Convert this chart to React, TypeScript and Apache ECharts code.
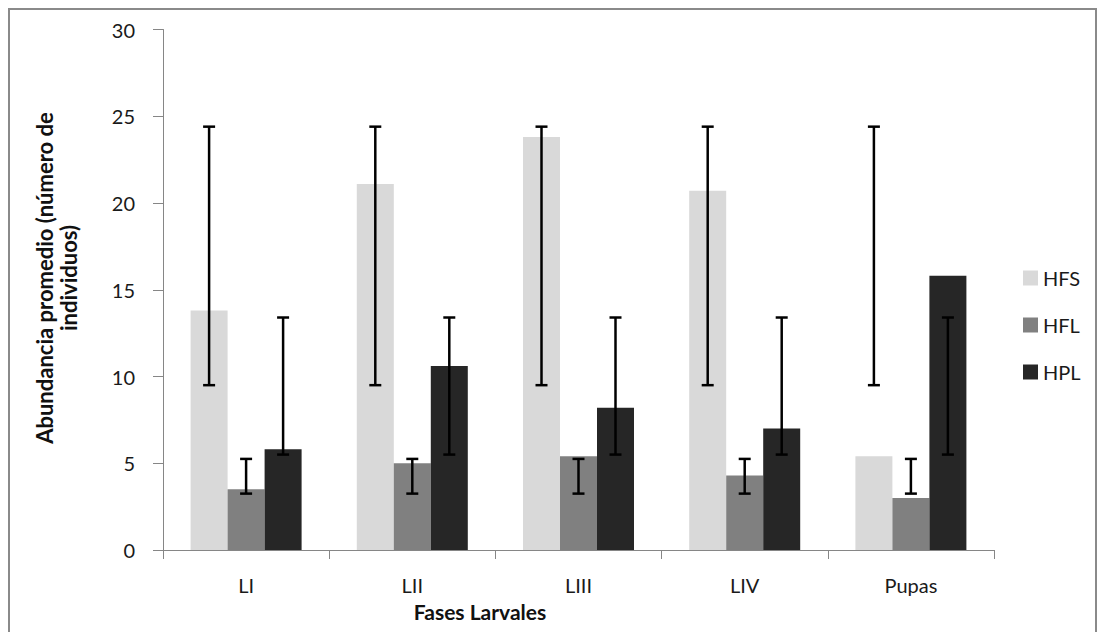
import React, { useEffect, useRef } from "react";
import * as echarts from "echarts";

// Larval phases on the category axis
const categories = ["LI", "LII", "LIII", "LIV", "Pupas"];
const seriesNames = ["HFS", "HFL", "HPL"];

// Mean abundance per phase
const hfsValues = [13.8, 21.1, 23.8, 20.7, 5.4];
const hflValues = [3.5, 5.0, 5.4, 4.3, 3.0];
const hplValues = [5.8, 10.6, 8.2, 7.0, 15.8];

// Error bar limits (low / high) per phase
const hfsLow = [9.5, 9.5, 9.5, 9.5, 9.5];
const hfsHigh = [24.4, 24.4, 24.4, 24.4, 24.4];
const hflLow = [3.25, 3.25, 3.25, 3.25, 3.25];
const hflHigh = [5.25, 5.25, 5.25, 5.25, 5.25];
const hplLow = [5.5, 5.5, 5.5, 5.5, 5.5];
const hplHigh = [13.4, 13.4, 13.4, 13.4, 13.4];

const yMin = 0;
const yMax = 30;
const yStep = 5;

const colors = ["#d9d9d9", "#808080", "#262626"];
const FONT = "Lato, 'Open Sans', sans-serif";
const BAR_W = 37;

export default function App() {
  const ref = useRef<HTMLDivElement>(null);

  useEffect(() => {
    document.body.style.margin = "0";
    if (!ref.current) return;
    const chart = echarts.init(ref.current, undefined, { renderer: "svg" });

    const values = [hfsValues, hflValues, hplValues];
    const lows = [hfsLow, hflLow, hplLow];
    const highs = [hfsHigh, hflHigh, hplHigh];

    const barSeries = seriesNames.map((name, i) => ({
      name,
      type: "bar",
      data: values[i],
      barWidth: BAR_W,
      barGap: "0%",
      itemStyle: { color: colors[i] },
      z: 2,
    }));

    const errorSeries = seriesNames.map((name, i) => ({
      name: name + "-err",
      type: "custom",
      data: categories.map((_, k) => [k, lows[i][k], highs[i][k]]),
      encode: { x: 0, y: [1, 2] },
      z: 5,
      silent: true,
      renderItem: (params: any, api: any) => {
        const k = api.value(0);
        const lo = api.coord([k, api.value(1)]);
        const hi = api.coord([k, api.value(2)]);
        const x = lo[0] + (i - 1) * BAR_W;
        const cap = 6;
        const style = { stroke: "#000", lineWidth: 2.5 };
        return {
          type: "group",
          children: [
            { type: "line", shape: { x1: x, y1: hi[1], x2: x, y2: lo[1] }, style },
            { type: "line", shape: { x1: x - cap, y1: hi[1], x2: x + cap, y2: hi[1] }, style },
            { type: "line", shape: { x1: x - cap, y1: lo[1], x2: x + cap, y2: lo[1] }, style },
          ],
        };
      },
    }));

    const legendCenters = [278, 325, 372];

    chart.setOption({
      animation: false,
      textStyle: { fontFamily: FONT },
      grid: { left: 163, right: 108, top: 29.5, bottom: 82 },
      legend: seriesNames.map((name, i) => ({
        data: [name],
        left: 1023,
        top: legendCenters[i] - 10,
        padding: 0,
        itemWidth: 15,
        itemHeight: 15,
        icon: "rect",
        selectedMode: false,
        textStyle: { fontFamily: FONT, fontSize: 20, color: "#1a1a1a", lineHeight: 20, padding: [0, 0, 0, 0] },
      })),
      xAxis: {
        type: "category",
        data: categories,
        axisLine: { lineStyle: { color: "#868686", width: 1 } },
        axisTick: { show: true, length: 9, lineStyle: { color: "#868686" } },
        axisLabel: { fontFamily: FONT, fontSize: 20, color: "#1a1a1a", margin: 25 },
        splitLine: { show: false },
      },
      yAxis: {
        type: "value",
        min: yMin,
        max: yMax,
        interval: yStep,
        axisLine: { show: true, lineStyle: { color: "#868686", width: 1 } },
        axisTick: { show: true, length: 10, lineStyle: { color: "#868686" } },
        axisLabel: { fontFamily: FONT, fontSize: 20, color: "#1a1a1a", margin: 28 },
        splitLine: { show: false },
      },
      graphic: [
        {
          type: "rect",
          shape: { x: 9, y: 9, width: 1087, height: 640 },
          style: { fill: "none", stroke: "#8a8a8a", lineWidth: 2 },
          silent: true,
        },
        {
          type: "text",
          x: 480,
          y: 611,
          style: {
            text: "Fases Larvales",
            fontFamily: FONT,
            fontSize: 21,
            fontWeight: "bold",
            fill: "#111",
            align: "center",
            verticalAlign: "middle",
          },
        },
        {
          type: "text",
          x: 56,
          y: 278,
          rotation: Math.PI / 2,
          style: {
            text: "Abundancia promedio (número de\nindividuos)",
            fontFamily: FONT,
            fontSize: 22,
            fontWeight: "bold",
            fill: "#111",
            align: "center",
            verticalAlign: "middle",
            lineHeight: 24,
          },
        },
      ],
      series: [...barSeries, ...errorSeries],
    });

    return () => chart.dispose();
  }, []);

  return <div ref={ref} style={{ width: 1102, height: 632 }} />;
}
